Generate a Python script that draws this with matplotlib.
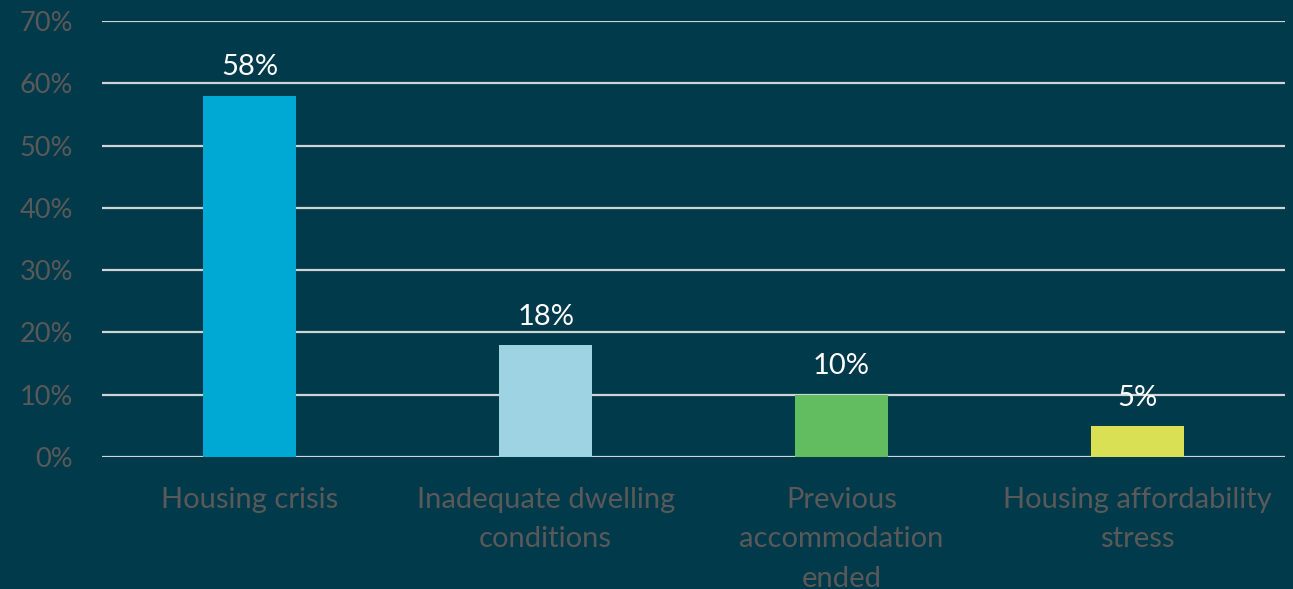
import matplotlib.pyplot as plt
from matplotlib.ticker import PercentFormatter

categories = [
    "Housing crisis",
    "Inadequate dwelling\nconditions",
    "Previous\naccommodation\nended",
    "Housing affordability\nstress",
]
values = [58, 18, 10, 5]
bar_colors = ["#00A9D4", "#9ED3E3", "#62BC60", "#DAE053"]

BG = "#013A4A"
GRID = "#D0D4D6"
TICK = "#595959"

plt.rcParams["font.family"] = ["Lato", "DejaVu Sans"]

fig = plt.figure(figsize=(12.93, 5.89), dpi=100, facecolor=BG)
ax = fig.add_axes([0.0789, 0.2241, 0.9149, 0.7402], facecolor=BG)

x = range(len(categories))
bars = ax.bar(x, values, width=0.315, color=bar_colors, zorder=3)

ax.set_xlim(-0.5, len(categories) - 0.5)
ax.set_ylim(0, 70)
ax.set_yticks(range(0, 71, 10))
ax.yaxis.set_major_formatter(PercentFormatter(decimals=0))
ax.grid(axis="y", color=GRID, lw=1.6, zorder=1)
ax.set_axisbelow(True)
for s in ax.spines.values():
    s.set_visible(False)
ax.tick_params(axis="both", length=0, colors=TICK)
ax.tick_params(axis="y", pad=21, labelsize=19.5)
ax.tick_params(axis="x", pad=21.5, labelsize=21)
ax.set_xticks(list(x))
ax.set_xticklabels(categories, linespacing=1.64)

for b, v in zip(bars, values):
    ax.annotate(f"{v}%", (b.get_x() + b.get_width() / 2, v),
                xytext=(0, 11), textcoords="offset points",
                ha="center", va="bottom", color="white", fontsize=21)

fig.savefig("out.png", dpi=100, facecolor=BG)
